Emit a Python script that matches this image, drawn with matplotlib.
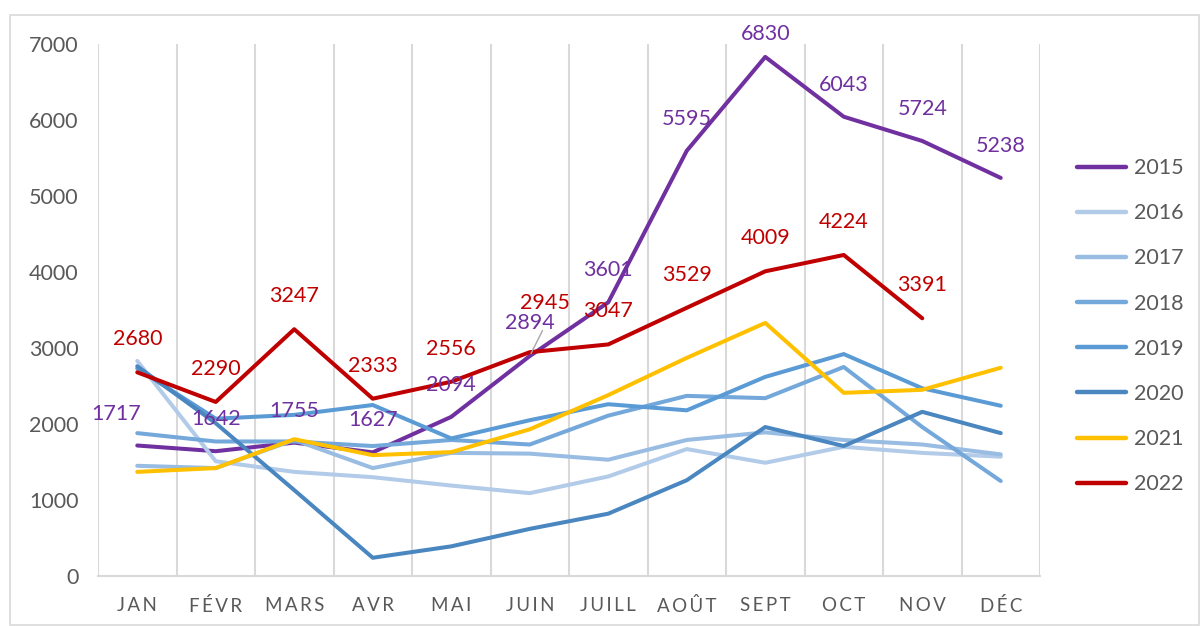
import numpy as np
import matplotlib
matplotlib.use("Agg")
import matplotlib.pyplot as plt
from matplotlib.patches import Rectangle

plt.rcParams['font.family'] = ['Lato', 'DejaVu Sans']

# données
mois = ['JAN', 'FÉVR', 'MARS', 'AVR', 'MAI', 'JUIN', 'JUILL', 'AOÛT', 'SEPT', 'OCT', 'NOV', 'DÉC']
annees = ['2015', '2016', '2017', '2018', '2019', '2020', '2021', '2022']

v2015 = [1717, 1642, 1755, 1627, 2094, 2894, 3601, 5595, 6830, 6043, 5724, 5238]
v2016 = [2830, 1510, 1370, 1300, 1190, 1090, 1310, 1670, 1490, 1700, 1620, 1570]
v2017 = [1450, 1420, 1790, 1420, 1620, 1610, 1530, 1790, 1890, 1790, 1730, 1600]
v2018 = [1880, 1770, 1770, 1710, 1790, 1730, 2110, 2370, 2340, 2750, 1960, 1250]
v2019 = [2730, 2070, 2120, 2250, 1810, 2050, 2260, 2180, 2620, 2920, 2470, 2240]
v2020 = [2760, 2010, 1130, 240, 390, 620, 820, 1260, 1960, 1710, 2160, 1880]
v2021 = [1370, 1420, 1800, 1590, 1630, 1930, 2380, 2870, 3330, 2410, 2450, 2740]
v2022 = [2680, 2290, 3247, 2333, 2556, 2945, 3047, 3529, 4009, 4224, 3391, np.nan]

series = [v2015, v2016, v2017, v2018, v2019, v2020, v2021, v2022]
couleurs = ['#7030A0', '#B2CBE8', '#98BCE2', '#74A8DB', '#5B9BD5', '#4A86BF', '#FFC000', '#C00000']

fig = plt.figure(figsize=(12, 6.26), dpi=100)
ax = fig.add_axes([98 / 1200, 1 - 576 / 626, (1040 - 98) / 1200, (576 - 44) / 626])

# cadre du graphique
fig.patches.append(Rectangle((10 / 1200, 1 / 626), 1189 / 1200, 610 / 626,
                             transform=fig.transFigure, fill=False,
                             edgecolor='#D9D9D9', linewidth=1.2))

x = np.arange(len(mois))
for i, (annee, vals, c) in enumerate(zip(annees, series, couleurs)):
    ax.plot(x, vals, color=c, lw=2.9, label=annee, solid_capstyle='round',
            solid_joinstyle='round', zorder=3 + i)

fs = 15.5

# étiquettes 2015
for i, v in enumerate(v2015):
    dx, dy = 0, 32
    if i == 0:
        dx = -21
    if i == 5:
        dy = 33
    if i == 8:
        dy = 23
    ax.annotate(str(v), (x[i], v), xytext=(dx, dy), textcoords='offset pixels',
                ha='center', va='center', color='#7030A0', fontsize=fs, zorder=20,
                annotation_clip=False)

# leader 2894
ax.annotate('', (x[5], v2015[5]), xytext=(14, 28), textcoords='offset pixels',
            arrowprops=dict(arrowstyle='-', color='#A6A6A6', lw=1), zorder=19)

# étiquettes 2022
for i, v in enumerate(v2022):
    if np.isnan(v):
        continue
    dx, dy = 0, 33
    if i == 5:
        dx, dy = 15, 49
    ax.annotate(str(int(v)), (x[i], v), xytext=(dx, dy), textcoords='offset pixels',
                ha='center', va='center', color='#C00000', fontsize=fs, zorder=20)

ax.set_xlim(-0.5, 11.5)
ax.set_ylim(0, 7000)
ax.set_yticks(range(0, 7001, 1000))
ax.set_xticks(x)
ax.set_xticklabels(['\u2009'.join(m) for m in mois])
ax.set_xticks(np.arange(-0.5, 12, 1), minor=True)
ax.grid(True, axis='x', which='minor', color='#D9D9D9', lw=1.5, zorder=0)
ax.tick_params(axis='both', which='both', length=0)
ax.tick_params(axis='y', labelsize=fs, labelcolor='#595959', pad=14)
ax.tick_params(axis='x', labelsize=13.5, labelcolor='#595959', pad=15)

for s in ['top', 'right', 'left']:
    ax.spines[s].set_visible(False)
ax.spines['bottom'].set_color('#D9D9D9')
ax.spines['bottom'].set_linewidth(1.5)

leg = ax.legend(loc='upper left', bbox_to_anchor=(1.019, 0.822), frameon=False,
                fontsize=fs, labelspacing=1.17, handlelength=2.25, handletextpad=0.4)
for t in leg.get_texts():
    t.set_color('#595959')
for h in leg.get_lines():
    h.set_linewidth(3.2)

fig.savefig('out.png', dpi=100)
